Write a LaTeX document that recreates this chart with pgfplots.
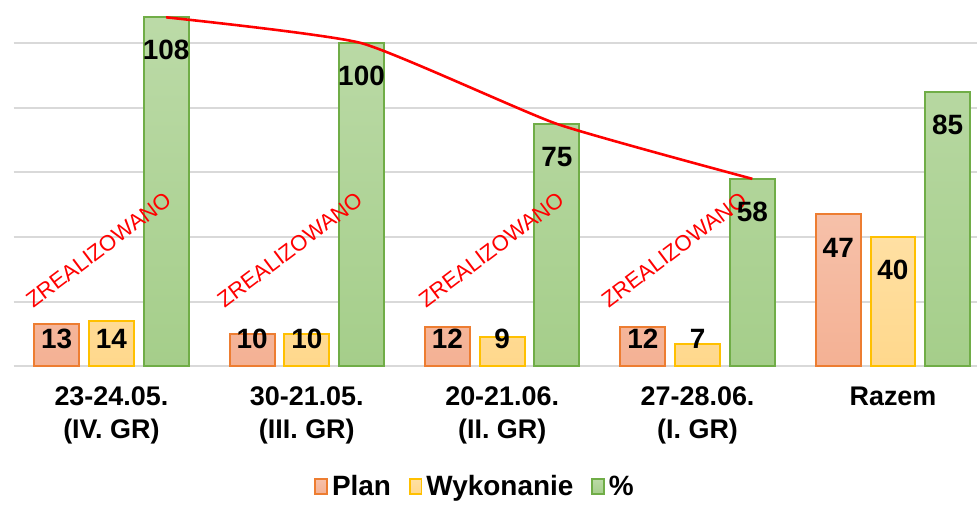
\documentclass[border=0pt]{standalone}
\usepackage{fontspec}
\setmainfont{Liberation Sans}
\usepackage{pgfplots}
\pgfplotsset{compat=1.18}

\definecolor{planfill}{RGB}{244,177,148}
\definecolor{planline}{RGB}{237,125,49}
\definecolor{wykfill}{RGB}{255,216,140}
\definecolor{wykline}{RGB}{255,192,0}
\definecolor{procfill}{RGB}{165,206,138}
\definecolor{procline}{RGB}{112,173,71}

% labels sit ~30px under the bar top, but never lower than for a value of ~9
\pgfplotsset{
  barlabels/.style={
    nodes near coords,
    /pgf/number format/assume math mode=true,
    visualization depends on=rawy \as \rawy,
    every node near coord/.append style={anchor=center, text=black,
      font=\fontsize{14}{16}\selectfont\bfseries,
      xshift=#1,
      yshift={-1.62*min(9.3,\rawy-9.3)-1.5}},
  },
}
\tikzset{stamp/.style={rotate=37, text=red, font=\fontsize{11}{13}\selectfont}}

\begin{document}
\begin{tikzpicture}
\begin{axis}[
  name=ax,
  scale only axis,
  width=483pt, height=183.5pt,
  xmin=-0.5, xmax=4.43,
  ymin=0, ymax=113.3,
  axis line style={draw=none},
  ytick={0,20,...,100},
  yticklabels={},
  ymajorgrids,
  grid style={line width=1pt, black!15},
  major tick length=0pt,
  xtick={0,...,4},
  xticklabels={{23-24.05.\\(IV. GR)},{30-21.05.\\(III. GR)},{20-21.06.\\(II. GR)},{27-28.06.\\(I. GR)},{Razem}},
  xticklabel style={align=center, anchor=north, font=\fontsize{13.5}{16.5}\selectfont\bfseries, yshift=-7pt},
  bar width=0.23,
  clip=false,
  legend style={at={(0.48,-0.33)}, anchor=center, draw=none, fill=none,
    legend columns=-1, font=\fontsize{14}{16}\selectfont\bfseries,
    /tikz/every even column/.append style={column sep=7pt}},
  legend image code/.code={\draw[#1, line width=0.8pt] (0pt,-3.5pt) rectangle (6pt,4pt);},
]
% Plan
\addplot[ybar, bar shift=-0.28, draw=planline, line width=1pt,
  top color=planfill!80!white, bottom color=planfill, barlabels=-27.44pt]
  coordinates {(0,13) (1,10) (2,12) (3,12) (4,47)};
\addlegendentry{Plan}
% Wykonanie
\addplot[ybar, bar shift=0, draw=wykline, line width=1pt,
  top color=wykfill!80!white, bottom color=wykfill, barlabels=0pt]
  coordinates {(0,14) (1,10) (2,9) (3,7) (4,40)};
\addlegendentry{Wykonanie}
% %
\addplot[ybar, bar shift=0.28, draw=procline, line width=1pt,
  top color=procfill!75!white, bottom color=procfill, barlabels=27.44pt]
  coordinates {(0,108) (1,100) (2,75) (3,58) (4,85)};
\addlegendentry{\%}
% trend line over the groups
\addplot[red, line width=1.3pt, smooth, tension=0.3, forget plot]
  coordinates {(0.28,108) (1.28,100) (2.28,75) (3.28,58)};

\node[stamp] at (axis cs:-0.066,36) {ZREALIZOWANO};
\node[stamp] at (axis cs:0.913,36) {ZREALIZOWANO};
\node[stamp] at (axis cs:1.944,36) {ZREALIZOWANO};
\node[stamp] at (axis cs:2.88,36) {ZREALIZOWANO};
\end{axis}
\path (ax.south west) ++(-6pt,-67.5pt);
\path (ax.north east);
\end{tikzpicture}
\end{document}
